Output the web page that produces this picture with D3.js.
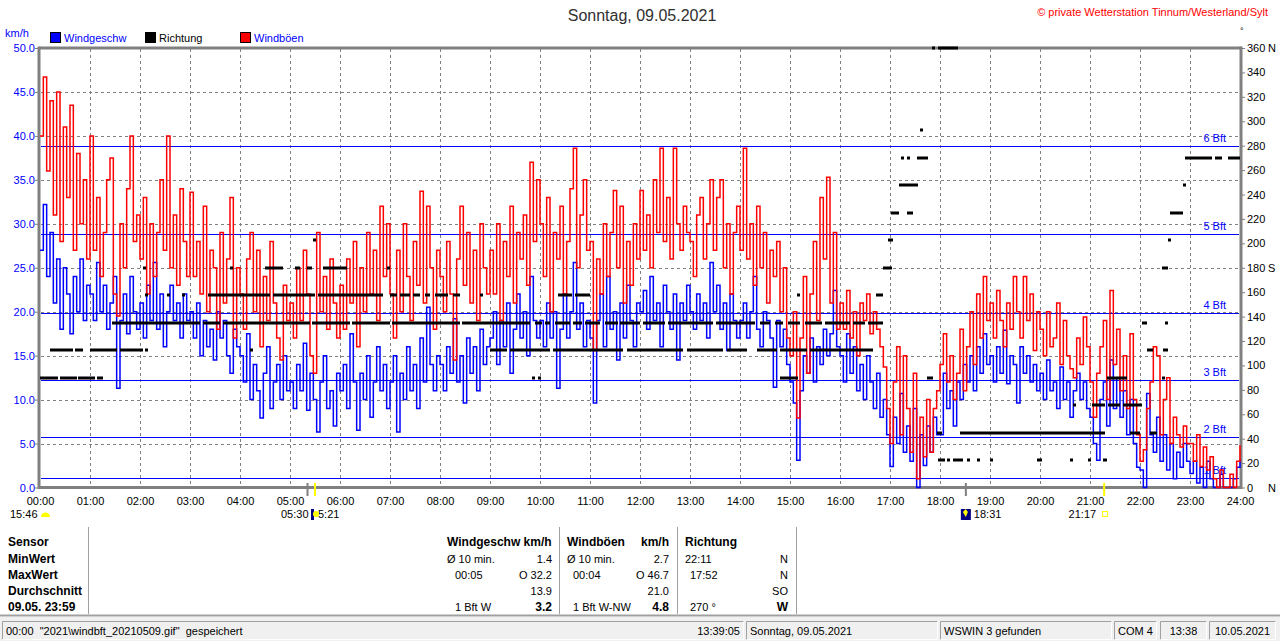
<!DOCTYPE html>
<html><head><meta charset="utf-8">
<script src="https://cdn.jsdelivr.net/npm/d3@7/dist/d3.min.js"></script>
<style>
html,body{margin:0;padding:0;background:#fff;overflow:hidden}
svg text{font-family:"Liberation Sans",Arial,sans-serif;white-space:pre}
</style></head><body>
<svg id="c" width="1280" height="641"></svg>
<script>
// ---------------- DATA ----------------
const chartTitle = "Sonntag, 09.05.2021";
const copyright = "\u00A9 private Wetterstation Tinnum/Westerland/Sylt";
const hourLabels = ["00:00","01:00","02:00","03:00","04:00","05:00","06:00","07:00","08:00","09:00","10:00","11:00","12:00","13:00","14:00","15:00","16:00","17:00","18:00","19:00","20:00","21:00","22:00","23:00","24:00"];
const kmhTicks = [0,5,10,15,20,25,30,35,40,45,50];
const degTicks = [0,20,40,60,80,100,120,140,160,180,200,220,240,260,280,300,320,340,360];
const compassLabels = {0:"N",180:"S",360:"N"};
const bftNames = ["1 Bft","2 Bft","3 Bft","4 Bft","5 Bft","6 Bft"];
const bftLimits = [1.08,5.76,12.24,19.8,28.8,38.88];
const legendNames = ["Windgeschw","Richtung","Windb\u00F6en"];
const sampleMinutes = 4;

// wind gusts (km/h), every 4 minutes from 00:00 to 24:00
const windGust = [
40,46.7,36,44,31,45,28,41,33,43.5,27,38,30,35,26,
40,27,33,24,29,35,37.5,22,19.5,30,25,34,40,28,31,
26,33,22,30,24,29,35,27,40,25,31,23,34,28,24,
33.6,24,28,22,32,20,27,25,18,29,21,26,33,17,25,
22,18,26,29,20,27,16,24,19,28,21,17,14.5,23,19,
21,17,25,19,27,22,15,13,29,20,24,18,26,21,17,
23,18,26,21,28,16,25,20,29,22,27,19,32,24,30,
22,17,27,20,30,24,19,28,23,33.7,21,32,25,18,27,
24,20,28,22,14.5,26,32,23,29,21,27,19,30,25,22,
27,22,30,19,28,24,32,21,29,26,31,23,37,28,35,
30,24,33,20,29,26,32,22,28,34,38.6,25,31,35,27,
28,15.6,26,22,30,24,29,33.8,25,32,21,28,23,30,26,
33.8,27,31,25,35,29,38.6,28,33,26,38.6,30,27,32,29,
28,24,31,33,26,30,35,27,33,35,25,30,22,29,32,
27,38.6,26,30,23,32,25,29,21,27,24,28,20,25,17,
15,20,7.9,17,24,13,22,28,19,33,26,35.3,21,29,18,
21,18,22.4,17,20,15,21,19,22,17.5,20,18,16,13.7,9,
5,12,16,6,15,9,4,13,1,8,3.5,10,4,9,11,
14,17.5,12,15,10,13,18,11,16,20,14,22,17,24,19,
21,17,22.4,19,16,21,18,24,20,17,24,19,22,15.6,20,
18,15,20,16,17,21,14,19,15,13.5,12.5,17,14,19.4,16,
12,8,13,16,19,10,22.4,14,18,11,15,9,17.5,10,6,
3,4.3,9,12,16,15,6,10,12.5,5,8,6,4.6,7,5,
5,3,6,2.4,4.6,2,3.5,1,0,2,0,0,1.5,0,3,
4.8];

// wind speed (km/h), every 4 minutes from 00:00 to 24:00
const windSpeed = [
27,32.2,24,29,21,26,18,25,22,17.5,24,20,26,19,23,
22,19,25.6,20,23,18,21,24,11.3,19,22,17.5,24,20,18,
21,17,23,19,25.6,18,22,16,20,23,19,21,17,22,19,
20,17,21,15,19,16,18,14.5,20,17,19,15,13,18,16,
15,12,17.5,10,14,11,7.9,13,16,9,12,14,10,15,11,
12,9,14,11,16.4,8.8,13,10,6.3,12,15,9,11,7,13,
11,14,9,17.5,12,6.5,13,10,15,8,12,16,11,14,9,
12,15,6.3,13,10,16,11,14,9,17,12,20.5,14,11,15,
14,11,16,13,19.2,12,15,9.6,17,13,16,11,18,14,16,
17,20,14,19,16,21,13,18,22,17,20,15,24,19,17,
19,16,21,17,20,11.3,18,22,17,20,25.6,18,21,16,19,
17,9.6,19,22,16,24,18,20,14.5,21,17,23,19,16,21,
20,22.4,18,24,19,21,16,23,20,18,22,14.5,21,19,23,
20,18,22,19,21,17,25.6,20,23,18,21,15.6,22,19,17,
19,21,17,20,24,18,16,20,19,17,11.4,19,16,18,14,
12,9.6,3.1,11,15,13,17,12,16,14,18,15,17.5,22.4,16,
15,12,17.5,13,16,11,14,10,15,12,9,13,8,10,6,
2.4,8,5,10.7,4,7,3,9,0,6,2.5,7,4,8,6,
6,13,9,11,7,12,10,14,12,15,11,16,13,17.5,14,
15,12,16,13,17.9,11.8,15,14,9.6,16,13,15,12,14,11,
13,10,14.5,11,12,9,13.7,10,12,8,11,13,10,12,9,
8,5,3.1,10,12,7,14.5,9,12.5,8,11,6,10,5,2.3,
2,0,10.7,6,4,8,3,6,2,5,1,4,2.3,5,3,
1.6,3,0.5,2.3,0,3,1,0,0,1.5,0,0,0,1,2.3,
3.2];

// wind direction runs: [start hour, end hour, degrees]
const directionRuns = [
[0.0,0.36,90],[0.4,0.74,90],[0.76,1.1,90],[1.14,1.26,90],
[0.2,0.66,112.5],[0.7,0.86,112.5],[1.0,1.54,112.5],[1.6,2.06,112.5],[2.1,2.14,112.5],[4.2,4.22,112.5],
[1.44,3.2,135],[3.26,3.6,135],[3.66,5.4,135],[5.44,6.2,135],[6.24,7.0,135],[7.04,8.4,135],[8.44,9.8,135],
[9.9,10.04,135],[10.1,10.2,135],[10.3,10.6,135],[10.66,10.84,135],[10.9,11.2,135],[11.3,11.56,135],
[11.6,12.0,135],[12.06,12.5,135],[12.56,13.46,135],[13.52,14.3,135],[14.4,14.6,135],[14.7,14.86,135],
[14.96,15.2,135],[15.3,15.64,135],[15.7,16.2,135],[16.26,16.5,135],[16.56,16.86,135],
[2.1,2.12,157.5],[2.54,2.6,157.5],[2.84,2.9,157.5],[3.36,4.6,157.5],[4.66,5.5,157.5],[5.56,6.86,157.5],
[7.0,7.14,157.5],[7.2,7.4,157.5],[7.46,7.6,157.5],[7.7,7.8,157.5],[7.9,8.16,157.5],[8.26,8.4,157.5],
[8.8,8.82,157.5],[10.36,10.64,157.5],[10.7,11.0,157.5],[15.14,15.16,157.5],[16.72,16.86,157.5],
[2.06,2.08,180],[3.8,3.86,180],[4.5,4.86,180],[5.1,5.2,180],[5.34,5.44,180],[5.66,6.14,180],[6.94,6.96,180],
[16.86,17.04,180],[22.44,22.46,180],[22.5,22.52,180],
[5.46,5.48,202.5],[16.96,17.06,202.5],[22.56,22.6,202.5],
[17.02,17.18,225],[17.34,17.46,225],[22.6,22.86,225],
[17.18,17.56,247.5],[22.86,22.9,247.5],
[17.22,17.24,270],[17.34,17.36,270],[17.54,17.76,270],[22.9,23.44,270],[23.5,23.64,270],[23.76,24.0,270],
[17.6,17.62,292.5],
[17.84,17.9,360],[17.96,18.36,360],
[9.84,9.86,90],[9.96,9.98,90],[14.8,15.16,90],[17.74,17.86,90],[21.34,21.74,90],[22.44,22.46,90],
[9.0,9.34,112.5],[9.4,10.2,112.5],[10.26,11.66,112.5],[11.74,12.86,112.5],[12.94,13.66,112.5],
[13.74,14.14,112.5],[14.34,14.74,112.5],[14.8,15.34,112.5],[15.4,16.66,112.5],[22.14,22.26,112.5],[22.46,22.56,112.5],
[17.96,18.1,22.5],[18.14,18.2,22.5],[18.26,18.46,22.5],[18.54,18.56,22.5],[18.74,18.76,22.5],[19.0,19.04,22.5],
[19.94,20.04,22.5],[20.6,20.64,22.5],[20.96,21.0,22.5],[21.26,21.34,22.5],
[17.94,18.04,45],[18.4,21.3,45],[21.8,22.0,45],[22.2,22.34,45],
[20.66,20.68,67.5],[21.04,21.3,67.5],[21.36,21.6,67.5],[21.66,22.04,67.5],
[22.04,22.14,135],[22.5,22.56,135]
];

// sun (grey) and moon (yellow) markers on the time axis, in hours
const sunMarkers = [5.35, 18.517];
const moonMarkers = [5.5, 21.283];

// statistics table
const tableRowLabels = ["Sensor","MinWert","MaxWert","Durchschnitt","09.05. 23:59"];
const speedCol = [["Windgeschw km/h",""],["\u00D8 10 min.","1.4"],["00:05","O 32.2"],["","13.9"],["1 Bft W","3.2"]];
const gustCol  = [["Windb\u00F6en","km/h"],["\u00D8 10 min.","2.7"],["00:04","O 46.7"],["","21.0"],["1 Bft W-NW","4.8"]];
const dirCol   = [["Richtung",""],["22:11","N"],["17:52","N"],["","SO"],["270 \u00B0","W"]];
const statusPanels = [
  ["00:00  \"2021\\windbft_20210509.gif\"  gespeichert","13:39:05"],
  ["Sonntag, 09.05.2021",""],["WSWIN 3 gefunden",""],["COM 4",""],["13:38",""],["10.05.2021",""]];

// ---------------- DRAW ----------------
const svg = d3.select("#c");
const BLUE="#0000ff", RED="#ff0000", GREY="#808080";
const FONT='"Liberation Sans",Arial,sans-serif';
const x = d3.scaleLinear().domain([0,24]).range([40,1240]);
const y = d3.scaleLinear().domain([0,50]).range([487.5,48]);
const yd = d3.scaleLinear().domain([0,360]).range([487.5,48]);
const tAt = i => i*sampleMinutes/60;

// title & copyright
svg.append("text").attr("x",642).attr("y",21).attr("text-anchor","middle")
  .attr("font-size",16).attr("fill","#303030").text(chartTitle);
svg.append("text").attr("x",1268).attr("y",16).attr("text-anchor","end")
  .attr("font-size",11).attr("fill",RED).text(copyright);
svg.append("text").attr("x",1240).attr("y",34).attr("font-size",9).attr("fill","#000").text("\u00B0");
svg.append("text").attr("x",5).attr("y",37).attr("font-size",11).attr("fill",BLUE).text("km/h");

// legend
const legColors=[BLUE,"#000",RED], legX=[50,145,240], legText=[BLUE,"#000",BLUE];
legendNames.forEach((n,i)=>{
  svg.append("rect").attr("x",legX[i]+0.5).attr("y",32.5).attr("width",10).attr("height",10)
    .attr("fill",legColors[i]).attr("stroke","#000").attr("stroke-width",1);
  svg.append("text").attr("x",legX[i]+14).attr("y",42).attr("font-size",11).attr("fill",legText[i]).text(n);
});

// grid
const grid = svg.append("g").attr("stroke",GREY).attr("stroke-width",1).attr("stroke-dasharray","3,3");
grid.selectAll("line.v").data(d3.range(1,24)).join("line")
  .attr("x1",d=>Math.round(x(d))+0.5).attr("x2",d=>Math.round(x(d))+0.5).attr("y1",49).attr("y2",486);
grid.selectAll("line.h").data(kmhTicks.slice(1,-1)).join("line")
  .attr("x1",41).attr("x2",1239).attr("y1",d=>Math.round(y(d))+0.5).attr("y2",d=>Math.round(y(d))+0.5);

// Beaufort lines
const bft = svg.append("g");
bft.selectAll("line").data(bftLimits).join("line")
  .attr("x1",41).attr("x2",1239).attr("y1",d=>Math.round(y(d))+0.5).attr("y2",d=>Math.round(y(d))+0.5)
  .attr("stroke",BLUE).attr("stroke-width",1);
bft.selectAll("text").data(bftLimits).join("text")
  .attr("x",1226).attr("y",d=>Math.round(y(d))-4).attr("text-anchor","end")
  .attr("font-size",11).attr("fill",BLUE).text((d,i)=>bftNames[i]);

// left axis
const la = svg.append("g").attr("transform","translate(40,0)")
  .call(d3.axisLeft(y).tickValues(kmhTicks).tickSize(5).tickFormat(d3.format(".1f")));
la.select(".domain").remove();
la.selectAll("line").attr("stroke",GREY);
la.selectAll("text").attr("fill",BLUE).attr("font-size",11).attr("font-family",FONT).attr("x",-5);

// right axis
const ra = svg.append("g").attr("transform","translate(1240,0)")
  .call(d3.axisRight(yd).tickValues(degTicks).tickSize(5).tickFormat(d=>String(d)));
ra.select(".domain").remove();
ra.selectAll("line").attr("stroke",GREY);
ra.selectAll("text").attr("fill","#000").attr("font-size",11).attr("font-family",FONT).attr("x",7);
Object.keys(compassLabels).forEach(k=>{
  svg.append("text").attr("x",1268).attr("y",yd(+k)+4).attr("font-size",11).attr("fill","#000").text(compassLabels[k]);
});

// bottom axis labels
const ba = svg.append("g").attr("transform","translate(0,487)")
  .call(d3.axisBottom(x).tickValues(d3.range(0,25)).tickSize(0).tickPadding(10).tickFormat((d,i)=>hourLabels[i]));
ba.select(".domain").remove();
ba.selectAll("text").attr("fill","#000").attr("font-size",11).attr("font-family",FONT);

// frame
const fr = svg.append("g").attr("stroke",GREY).attr("stroke-width",3).attr("fill","none");
fr.append("line").attr("x1",39).attr("x2",39).attr("y1",46.5).attr("y2",489);
fr.append("line").attr("x1",1241).attr("x2",1241).attr("y1",46.5).attr("y2",489);
fr.append("line").attr("x1",39).attr("x2",1241).attr("y1",48).attr("y2",48);
fr.append("line").attr("x1",39).attr("x2",1241).attr("y1",487.5).attr("y2",487.5);

// data lines
const line = d3.line().x((d,i)=>x(tAt(i))).y(d=>y(d)).curve(d3.curveStepAfter);
svg.append("path").datum(windSpeed).attr("d",line).attr("fill","none").attr("stroke",BLUE).attr("stroke-width",1.5);
svg.append("path").datum(windGust).attr("d",line).attr("fill","none").attr("stroke",RED).attr("stroke-width",1.5);

// direction dashes
svg.append("g").selectAll("rect").data(directionRuns).join("rect")
  .attr("x",d=>x(d[0])).attr("width",d=>Math.max(3,x(d[1])-x(d[0])))
  .attr("y",d=>Math.round(yd(d[2]))-1.5).attr("height",3).attr("fill","#000");

// astro markers
svg.selectAll("rect.sun").data(sunMarkers).join("rect").attr("class","sun")
  .attr("x",d=>x(d)-1).attr("width",2).attr("y",483).attr("height",13).attr("fill",GREY);
svg.selectAll("rect.moon").data(moonMarkers).join("rect").attr("class","moon")
  .attr("x",d=>x(d)-1).attr("width",2).attr("y",483).attr("height",13).attr("fill","#ffff00");

// astro labels row
const ast = svg.append("g").attr("font-size",11).attr("fill","#000");
ast.append("text").attr("x",10).attr("y",518).text("15:46");
svg.append("path").attr("d","M41,517 A4.5,4.5 0 0 1 50,517 Z").attr("fill","#ffff00");
ast.append("text").attr("x",x(sunMarkers[0])+1).attr("y",518).attr("text-anchor","end").text("05:30");
svg.append("rect").attr("x",x(moonMarkers[0])-4).attr("y",509).attr("width",3).attr("height",11).attr("fill","#000080");
svg.append("circle").attr("cx",x(moonMarkers[0])+1).attr("cy",514).attr("r",3).attr("fill","#ffff00");
ast.append("text").attr("x",x(moonMarkers[0])+3).attr("y",518).text("5:21");
svg.append("rect").attr("x",x(sunMarkers[1])-5).attr("y",509).attr("width",10).attr("height",11).attr("fill","#000080");
svg.append("path").attr("d",`M${x(sunMarkers[1])-3},512 l3,-3 l2,3 l-2,5 z`).attr("fill","#ffff00");
ast.append("text").attr("x",x(sunMarkers[1])+8).attr("y",518).text("18:31");
ast.append("text").attr("x",x(moonMarkers[1])-8).attr("y",518).attr("text-anchor","end").text("21:17");
svg.append("rect").attr("x",x(moonMarkers[1])-1.5).attr("y",511.5).attr("width",5).attr("height",5).attr("fill","none").attr("stroke","#ffff00");

// table
const tb = svg.append("g");
[88,559,677,796].forEach(xx=>tb.append("line").attr("x1",xx+0.5).attr("x2",xx+0.5).attr("y1",527).attr("y2",614).attr("stroke","#a0a0a0"));
const rowY = [546,563,579,595,611];
tableRowLabels.forEach((t,i)=>tb.append("text").attr("x",8).attr("y",rowY[i]).attr("font-size",12).attr("font-weight","bold").text(t));
function col(data,lx,rx,lx2){
  data.forEach((r,i)=>{
    const hdr = i===0, last = i===4;
    tb.append("text").attr("x",(i===2||i===4)?lx2:lx).attr("y",rowY[i]).attr("font-size",hdr?12:11)
      .attr("font-weight",hdr?"bold":"normal").text(r[0]);
    tb.append("text").attr("x",rx).attr("y",rowY[i]).attr("text-anchor","end").attr("font-size",(hdr||last)?12:11)
      .attr("font-weight",(hdr||last)?"bold":"normal").text(r[1]);
  });
}
col(speedCol,447,552,455);
col(gustCol,567,669,573);
col(dirCol,685,788,690);

// status bar
svg.append("rect").attr("x",0).attr("y",617).attr("width",1280).attr("height",24).attr("fill","#f0f0f0");
svg.append("line").attr("x1",0).attr("x2",1280).attr("y1",615.5).attr("y2",615.5).attr("stroke","#a0a0a0").attr("stroke-width",2);
const panelX = [[2,744],[746,938],[940,1112],[1114,1157],[1160,1207],[1209,1276]];
statusPanels.forEach((p,i)=>{
  const [a,b]=panelX[i];
  svg.append("path").attr("d",`M${a+0.5},639.5 V621.5 H${b-0.5}`).attr("fill","none").attr("stroke","#a0a0a0");
  svg.append("path").attr("d",`M${a+0.5},639.5 H${b-0.5} V621.5`).attr("fill","none").attr("stroke","#ffffff");
  const centered = i>=3;
  svg.append("text").attr("x",centered?(a+b)/2:a+4).attr("y",635).attr("font-size",11)
    .attr("text-anchor",centered?"middle":"start").text(p[0]);
  if(p[1]) svg.append("text").attr("x",b-4).attr("y",635).attr("font-size",11).attr("text-anchor","end").text(p[1]);
});
</script>
</body></html>
